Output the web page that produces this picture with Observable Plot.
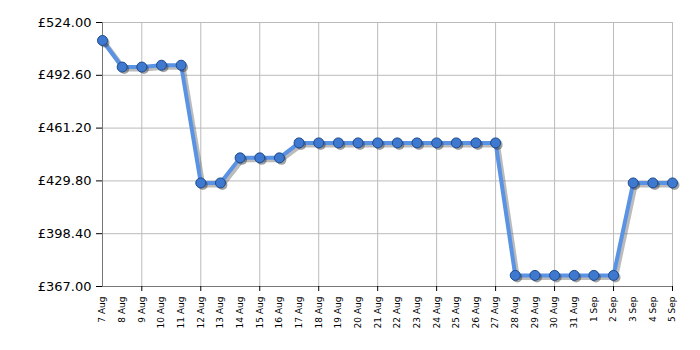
<!DOCTYPE html>
<html>
<head>
<meta charset="utf-8">
<script src="https://cdn.jsdelivr.net/npm/d3@7"></script>
<script src="https://cdn.jsdelivr.net/npm/@observablehq/plot@0.6"></script>
<style>
  html, body { margin: 0; padding: 0; background: #fff; overflow: hidden; }
  svg { display: block; }
</style>
</head>
<body>
<div id="chart"></div>
<script>
const dates = ["7 Aug","8 Aug","9 Aug","10 Aug","11 Aug","12 Aug","13 Aug","14 Aug","15 Aug","16 Aug",
  "17 Aug","18 Aug","19 Aug","20 Aug","21 Aug","22 Aug","23 Aug","24 Aug","25 Aug","26 Aug","27 Aug",
  "28 Aug","29 Aug","30 Aug","31 Aug","1 Sep","2 Sep","3 Sep","4 Sep","5 Sep"];
const prices = [513.3, 497.5, 497.5, 498.6, 498.6, 428.6, 428.6, 443.5, 443.5, 443.5,
  452.4, 452.4, 452.4, 452.4, 452.4, 452.4, 452.4, 452.4, 452.4, 452.4, 452.4,
  373.6, 373.6, 373.6, 373.6, 373.6, 373.6, 428.6, 428.6, 428.6];
const yTicks = [367.0, 398.4, 429.8, 461.2, 492.6, 524.0];

const idx = dates.map((d, i) => i);
const gridIdx = idx.filter(i => i % 3 === 2);
const data = dates.map((d, i) => ({i, date: d, price: prices[i]}));

const chart = Plot.plot({
  width: 700,
  height: 350,
  marginLeft: 102,
  marginRight: 28,
  marginTop: 22,
  marginBottom: 64,
  style: {fontFamily: "'DejaVu Sans', Verdana, sans-serif", background: "#fff", color: "#000"},
  x: {type: "linear", domain: [0, dates.length - 1], range: [102, 672], inset: 0},
  y: {domain: [367, 524], range: [286, 22]},
  marks: [
    Plot.gridY(yTicks, {stroke: "#bbb", strokeOpacity: 1}),
    Plot.gridX(gridIdx, {stroke: "#bbb", strokeOpacity: 1}),
    Plot.ruleX([0], {stroke: "#777"}),
    Plot.ruleY([367], {stroke: "#777"}),
    Plot.axisY(yTicks, {tickSize: 6, tickPadding: 5, fontSize: 13, stroke: "#000",
      tickFormat: d => "£" + d.toFixed(2), label: null}),
    Plot.axisX(idx, {tickSize: 0, tickPadding: 10, tickRotate: -90, fontSize: 9, label: null,
      tickFormat: i => dates[i]}),
    Plot.axisX(gridIdx, {tickSize: 5, tickFormat: () => "", stroke: "#000", label: null}),
    Plot.line(data, {x: "i", y: "price", stroke: "#555", strokeOpacity: 0.4, strokeWidth: 5, dx: 2, dy: 2}),
    Plot.line(data, {x: "i", y: "price", stroke: "#5a92e4", strokeWidth: 4}),
    Plot.dot(data, {x: "i", y: "price", r: 5, fill: "#333", fillOpacity: 0.45, stroke: "none", dx: 2, dy: 2}),
    Plot.dot(data, {x: "i", y: "price", r: 5, fill: "#3f78cf", stroke: "#1d4b8f", strokeWidth: 1})
  ]
});
document.getElementById("chart").appendChild(chart);
</script>
</body>
</html>
